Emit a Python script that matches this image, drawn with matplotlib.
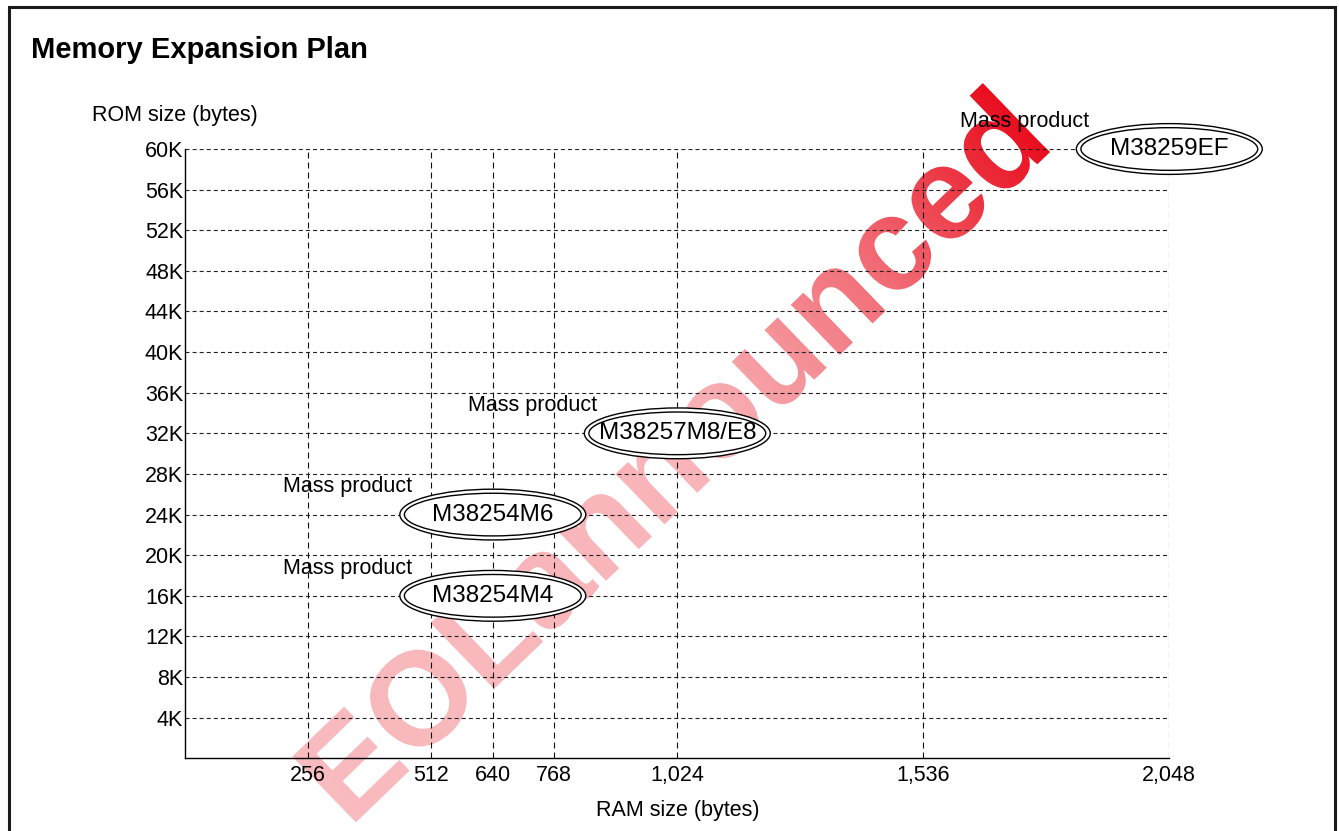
import matplotlib
matplotlib.use("Agg")
import matplotlib.pyplot as plt
import numpy as np
from matplotlib.patches import Ellipse, PathPatch, Rectangle
from matplotlib.textpath import TextPath
from matplotlib.font_manager import FontProperties
import matplotlib.transforms as mtransforms

plt.rcParams['font.family'] = ['Liberation Sans', 'DejaVu Sans']
plt.rcParams['lines.scale_dashes'] = False

# data
ram_ticks = [256, 512, 640, 768, 1024, 1536, 2048]
ram_labels = ['256', '512', '640', '768', '1,024', '1,536', '2,048']
rom_ticks = [4, 8, 12, 16, 20, 24, 28, 32, 36, 40, 44, 48, 52, 56, 60]
rom_labels = ['%dK' % v for v in rom_ticks]

products = ['M38254M4', 'M38254M6', 'M38257M8/E8', 'M38259EF']
product_ram = [640, 640, 1024, 2048]
product_rom = [16, 24, 32, 60]
product_status = ['Mass product', 'Mass product', 'Mass product', 'Mass product']

W, H = 1339, 831
fig = plt.figure(figsize=(W / 100, H / 100), dpi=100)

# background layer in pixel coordinates: frame + watermark
ov = fig.add_axes([0, 0, 1, 1], zorder=0.5)
ov.set_xlim(0, W)
ov.set_ylim(0, H)
ov.axis('off')
ov.patch.set_visible(False)

ov.add_patch(Rectangle((8.5, -20), 1335 - 8.5, H - 6.5 + 20, fill=False,
                       edgecolor='#1a1a1a', lw=2.2))

tp = TextPath((0, 0), 'EOLannounced', size=133,
              prop=FontProperties(family='Liberation Sans', weight='bold'))
bb = tp.get_extents()
ang = 44
cx, cy = 670, H - 453
tr = (mtransforms.Affine2D()
      .translate(-(bb.x0 + bb.x1) / 2, -(bb.y0 + bb.y1) / 2)
      .rotate_deg(ang).translate(cx, cy))
wm = PathPatch(tr.transform_path(tp), facecolor='none', edgecolor='none',
               transform=ov.transData)
ov.add_patch(wm)

L = bb.x1 - bb.x0
ux, uy = np.cos(np.radians(ang)), np.sin(np.radians(ang))
xx, yy = np.meshgrid(np.arange(W) + 0.5, np.arange(H) + 0.5)
t = ((xx - cx) * ux + (yy - cy) * uy) / L + 0.5
alpha = np.interp(t, [0, 0.55, 0.8, 1.0], [0.27, 0.3, 0.6, 0.95])
img = np.zeros((H, W, 4))
img[..., 0] = 0.91
img[..., 1] = 0.0
img[..., 2] = 0.07
img[..., 3] = alpha
im = ov.imshow(img, extent=[0, W, 0, H], origin='lower', aspect='auto',
               interpolation='nearest', zorder=5)
im.set_clip_path(wm)

# main chart
ax = fig.add_axes([185.3 / W, (H - 758.3) / H, 984 / W, 609.3 / H], zorder=1)
ax.patch.set_visible(False)
ax.set_xlim(0, 2048)
ax.set_ylim(0, 60)
ax.set_xticks(ram_ticks)
ax.set_xticklabels(ram_labels)
ax.set_yticks(rom_ticks)
ax.set_yticklabels(rom_labels)
ax.tick_params(axis='both', length=0, labelsize=15.5)
ax.tick_params(axis='x', pad=5)
ax.tick_params(axis='y', pad=1.5)
for s in ['top', 'right']:
    ax.spines[s].set_visible(False)
for s in ['left', 'bottom']:
    ax.spines[s].set_linewidth(1.0)
ax.xaxis.grid(True, color='#111111', lw=0.8, linestyle=(0, (4.3, 2.9)))
ax.yaxis.grid(True, color='#222222', lw=0.8, linestyle=(0, (2.9, 2.2)))
ax.set_xlabel('RAM size (bytes)', fontsize=15.5, labelpad=10)

# ellipses with double outline
for name, x, y, st in zip(products, product_ram, product_rom, product_status):
    ax.add_patch(Ellipse((x, y), 387, 5.0, facecolor='white', edgecolor='black',
                         lw=1.0, zorder=3, clip_on=False))
    ax.add_patch(Ellipse((x, y), 368, 4.2, facecolor='white', edgecolor='black',
                         lw=1.0, zorder=3, clip_on=False))
    ax.text(x, y, name, ha='center', va='center', fontsize=17.5, zorder=4)
    ax.annotate(st, (x, y), xytext=(-151, 20), textcoords='offset points',
                ha='left', va='center', fontsize=15.5, zorder=4,
                annotation_clip=False)

fig.text(31 / W, 1 - 57.5 / H, 'Memory Expansion Plan', fontsize=21,
         fontweight='bold', ha='left', va='baseline')
fig.text(92 / W, 1 - 116 / H, 'ROM size (bytes)', fontsize=15.5,
         ha='left', va='center')

fig.savefig('out.png', dpi=100)
